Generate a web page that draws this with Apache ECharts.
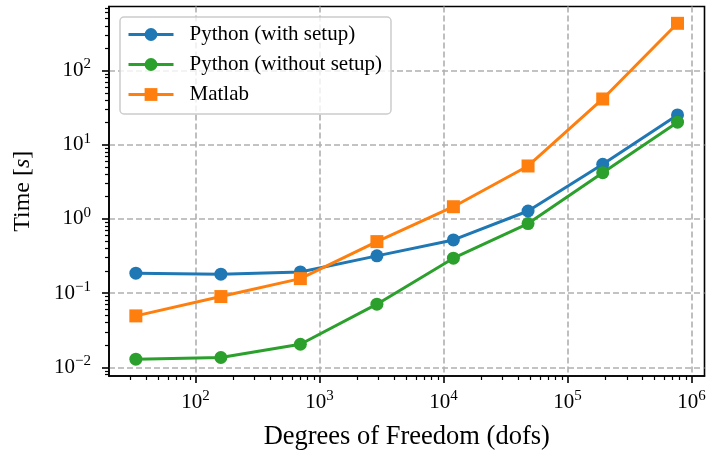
<!DOCTYPE html>
<html>
<head>
<meta charset="utf-8">
<script src="https://cdn.jsdelivr.net/npm/echarts@6/dist/echarts.min.js"></script>
<style>
  html, body { margin: 0; padding: 0; background: #fff; }
  #chart { width: 707px; height: 453px; }
</style>
</head>
<body>
<div id="chart"></div>
<script>
// ---- data ----
const dofs = [33, 160, 700, 2900, 12000, 48000, 192000, 770000];
const pythonWithSetup = [0.186, 0.180, 0.193, 0.318, 0.521, 1.28, 5.45, 25.2];
const pythonWithoutSetup = [0.0129, 0.0136, 0.0205, 0.071, 0.296, 0.865, 4.2, 20.1];
const matlab = [0.0494, 0.090, 0.157, 0.495, 1.46, 5.17, 41.3, 432];
const seriesNames = ['Python (with setup)', 'Python (without setup)', 'Matlab'];
const xMajorTicks = [100, 1000, 10000, 100000, 1000000];
const yMajorTicks = [0.01, 0.1, 1, 10, 100];

// axis extents (log-space margins like matplotlib)
const xMin = Math.pow(10, 1.302), xMax = Math.pow(10, 6.104);
const yMin = Math.pow(10, -2.116), yMax = Math.pow(10, 2.862);

function minorTicks(lo, hi) {
  const out = [];
  for (let e = Math.floor(Math.log10(lo)); e <= Math.ceil(Math.log10(hi)); e++) {
    for (let m = 2; m <= 9; m++) {
      const v = m * Math.pow(10, e);
      if (v >= lo && v <= hi) out.push(v);
    }
  }
  return out;
}

const FONT = "'Liberation Serif', 'DejaVu Serif', serif";
const richLabel = {
  b: { fontFamily: FONT, fontSize: 21, lineHeight: 27, color: '#000' },
  s: { fontFamily: FONT, fontSize: 15, lineHeight: 15, verticalAlign: 'top', color: '#000' }
};
function powLabel(v) {
  const e = Math.round(Math.log10(v));
  return '{b|10}{s|' + (e < 0 ? '\u2212' + (-e) : e) + '}';
}

const gridStyle = { color: '#b0b0b0', width: 1.6, type: [6, 3] };

const chart = echarts.init(document.getElementById('chart'), null, { renderer: 'canvas' });
chart.setOption({
  animation: false,
  backgroundColor: '#fff',
  grid: { left: 109, right: 2.5, top: 6.5, bottom: 77, outerBoundsMode: 'none', containLabel: false,
    show: true, borderColor: '#000', borderWidth: 1.6, backgroundColor: 'transparent' },
  legend: {
    orient: 'vertical', left: 120, top: 17,
    data: seriesNames,
    itemWidth: 45, itemHeight: 16, itemGap: 9,
    padding: [7, 9, 9, 7],
    backgroundColor: 'rgba(255,255,255,0.8)',
    borderColor: '#cccccc', borderWidth: 1.5, borderRadius: 4,
    lineStyle: { width: 3 },
    textStyle: { fontFamily: FONT, fontSize: 21, color: '#000', padding: [0, 0, 0, 11] }
  },
  xAxis: [{
    type: 'log', min: xMin, max: xMax, logBase: 10,
    name: 'Degrees of Freedom (dofs)', nameLocation: 'middle', nameGap: 48,
    nameTextStyle: { fontFamily: FONT, fontSize: 26.5, color: '#000' },
    axisLine: { show: true, lineStyle: { color: '#000', width: 1.6 } },
    axisTick: { show: true, length: 7, lineStyle: { color: '#000', width: 1.6 }, customValues: xMajorTicks },
    axisLabel: { customValues: xMajorTicks, formatter: powLabel, rich: richLabel, margin: 13 },
    splitLine: { show: true, lineStyle: gridStyle },
    minorTick: { show: false }, minorSplitLine: { show: false }
  }, {
    type: 'log', min: xMin, max: xMax, logBase: 10, position: 'bottom', gridIndex: 0,
    axisLine: { show: false },
    axisTick: { show: true, length: 4, lineStyle: { color: '#000', width: 1.2 }, customValues: minorTicks(xMin, xMax) },
    axisLabel: { show: false },
    splitLine: { show: false }
  }],
  yAxis: [{
    type: 'log', min: yMin, max: yMax, logBase: 10,
    name: 'Time [{i|s}]', nameLocation: 'middle', nameGap: 74, nameRotate: 90,
    nameTextStyle: { fontFamily: FONT, fontSize: 24, color: '#000',
      rich: { i: { fontFamily: FONT, fontSize: 24, fontStyle: 'italic', color: '#000' } } },
    axisLine: { show: true, lineStyle: { color: '#000', width: 1.6 } },
    axisTick: { show: true, length: 7, lineStyle: { color: '#000', width: 1.6 }, customValues: yMajorTicks },
    axisLabel: { customValues: yMajorTicks, formatter: powLabel, rich: richLabel, margin: 18 },
    splitLine: { show: true, lineStyle: gridStyle },
    minorTick: { show: false }, minorSplitLine: { show: false }
  }, {
    type: 'log', min: yMin, max: yMax, logBase: 10, position: 'left', gridIndex: 0,
    axisLine: { show: false },
    axisTick: { show: true, length: 4, lineStyle: { color: '#000', width: 1.2 }, customValues: minorTicks(yMin, yMax) },
    axisLabel: { show: false },
    splitLine: { show: false }
  }],
  series: [
    { name: seriesNames[0], type: 'line', data: dofs.map((d, i) => [d, pythonWithSetup[i]]),
      symbol: 'circle', symbolSize: 13, color: '#1f77b4', lineStyle: { width: 3 } },
    { name: seriesNames[1], type: 'line', data: dofs.map((d, i) => [d, pythonWithoutSetup[i]]),
      symbol: 'circle', symbolSize: 13, color: '#2ca02c', lineStyle: { width: 3 } },
    { name: seriesNames[2], type: 'line', data: dofs.map((d, i) => [d, matlab[i]]),
      symbol: 'rect', symbolSize: 13, color: '#ff7f0e', lineStyle: { width: 3 } }
  ]
});
</script>
</body>
</html>
